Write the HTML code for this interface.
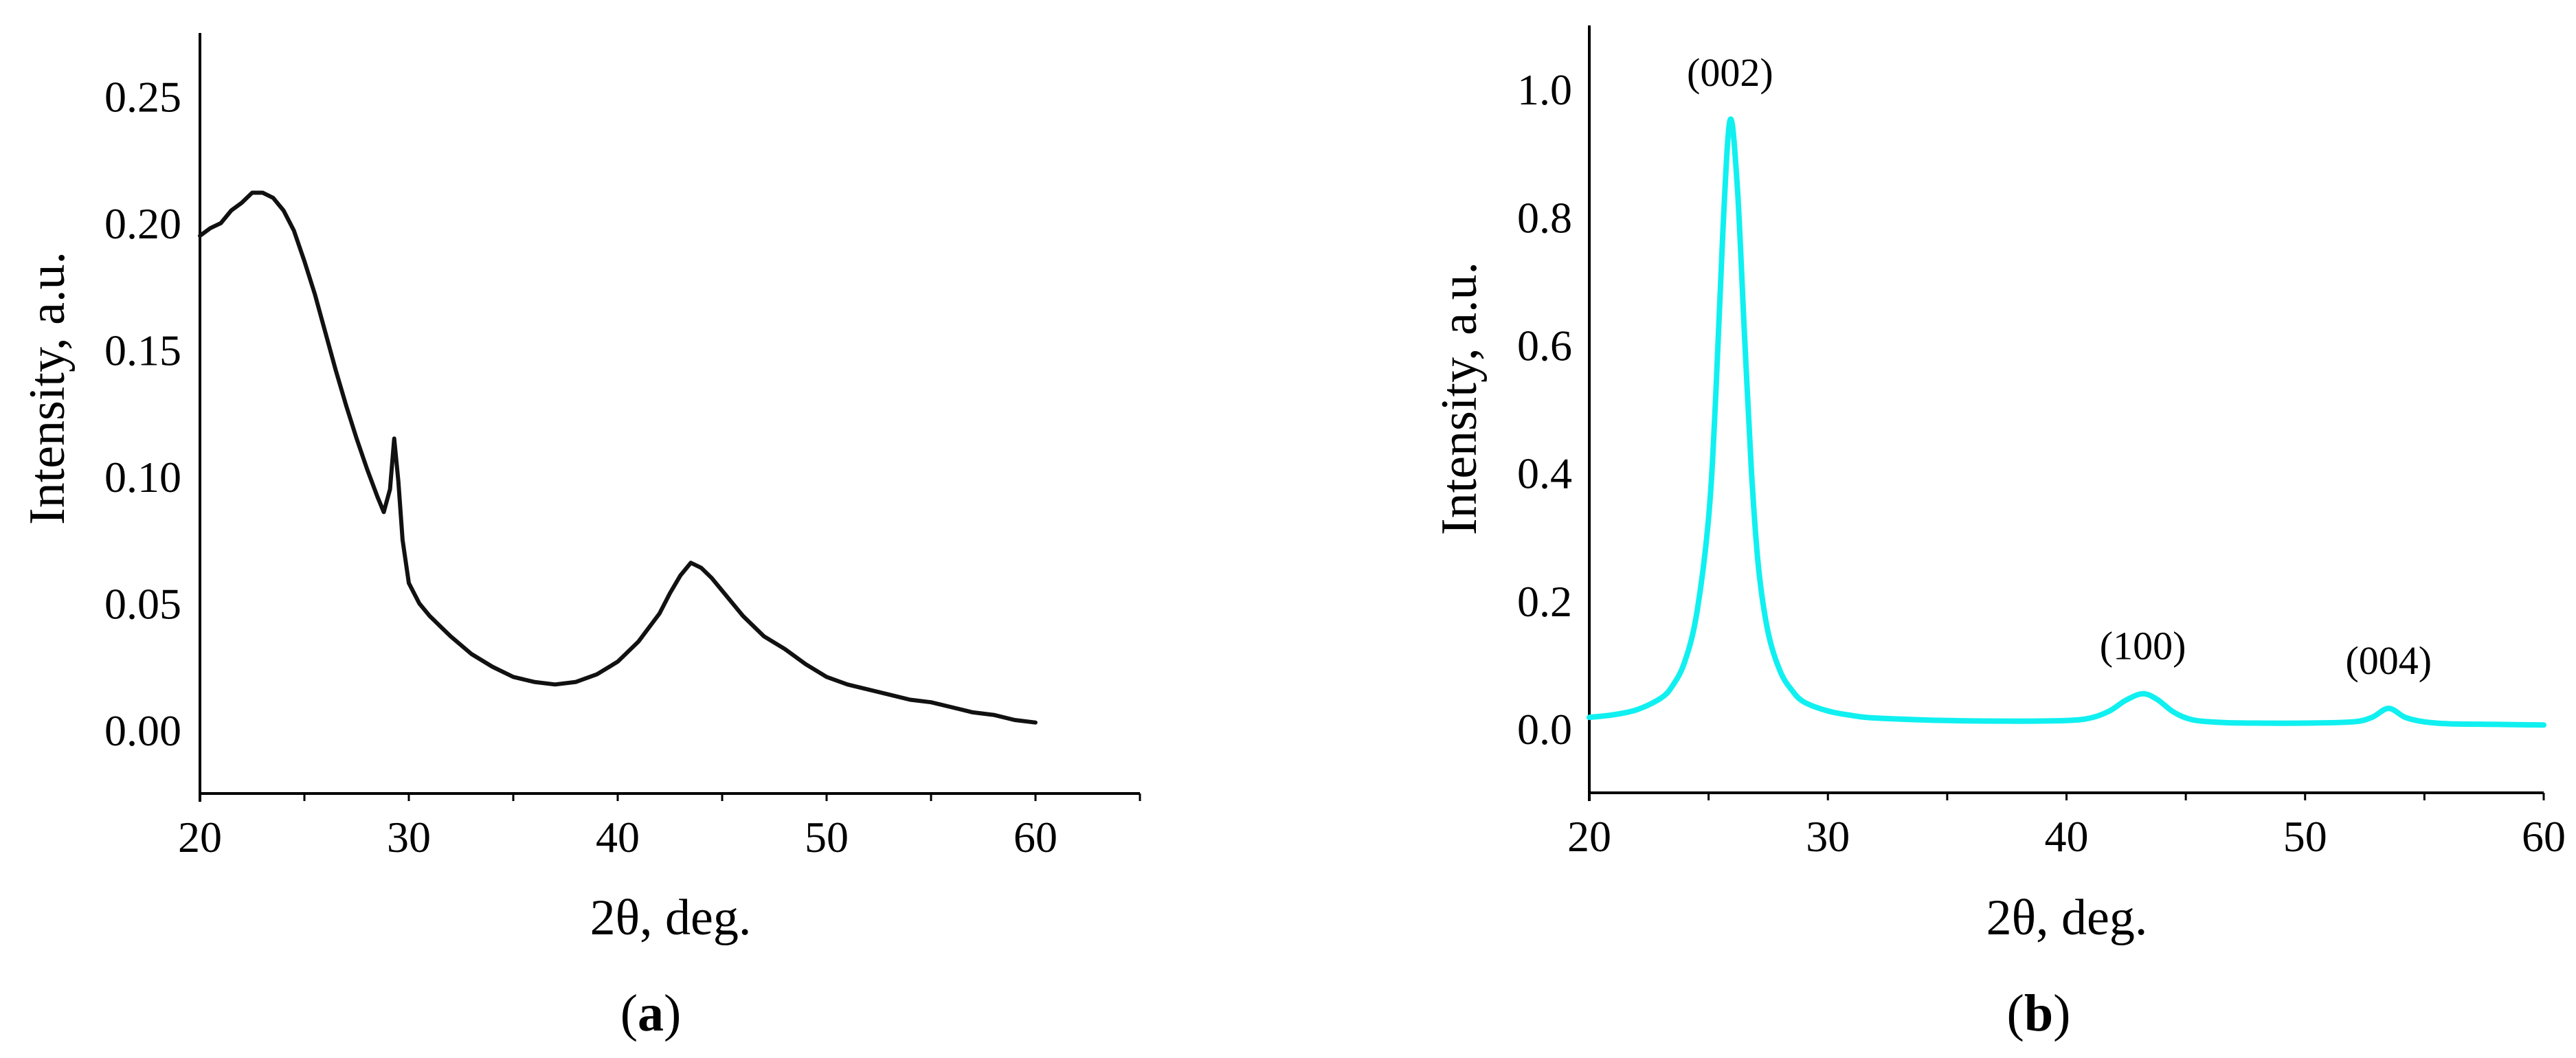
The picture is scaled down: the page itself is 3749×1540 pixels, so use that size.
<!DOCTYPE html>
<html><head><meta charset="utf-8"><style>
html,body{margin:0;padding:0;background:#fff;}
svg{display:block;}
text{font-family:"Liberation Serif","Times New Roman",serif;}
</style></head><body>
<svg id="fig" width="3749" height="1540" viewBox="0 0 3749 1540" xmlns="http://www.w3.org/2000/svg" font-family="Liberation Serif, serif">
<g id="chartA"></g>
<g id="chartB"></g>
</svg>
<script>
// Panel (a) data
const aX = [20,20.5,21,21.5,22,22.5,23,23.5,24,24.5,25,25.5,26,26.5,27,27.5,28,28.5,28.8,29.1,29.3,29.5,29.7,30,30.5,31,32,33,34,35,36,37,38,39,40,41,42,42.5,43,43.5,44,44.5,45,46,47,48,49,50,51,52,53,54,55,56,57,58,59,60];
const aY = [0.195,0.198,0.200,0.205,0.208,0.212,0.212,0.210,0.205,0.197,0.185,0.172,0.157,0.142,0.128,0.115,0.103,0.092,0.086,0.095,0.115,0.098,0.075,0.058,0.050,0.045,0.037,0.030,0.025,0.021,0.019,0.018,0.019,0.022,0.027,0.035,0.046,0.054,0.061,0.066,0.064,0.060,0.055,0.045,0.037,0.032,0.026,0.021,0.018,0.016,0.014,0.012,0.011,0.009,0.007,0.006,0.004,0.003];
const aXTicks = [20,30,40,50,60];
const aYTicks = [0.00,0.05,0.10,0.15,0.20,0.25];
const aYLabels = ["0.00","0.05","0.10","0.15","0.20","0.25"];
// Panel (b) data
const bX = [20,21,22,23,23.5,24,24.5,25,25.3,25.6,25.9,26.2,26.5,26.8,27.1,27.5,28,28.5,29,30,31,32,35,38,40,41,41.8,42.5,43.2,43.8,44.5,45.3,46.5,48,50,52,52.8,53.5,54.2,55,56,58,60];
const bY = [0.018,0.022,0.030,0.048,0.068,0.105,0.180,0.330,0.520,0.780,0.952,0.850,0.620,0.400,0.250,0.150,0.090,0.060,0.042,0.028,0.021,0.017,0.013,0.012,0.013,0.017,0.028,0.045,0.055,0.046,0.026,0.014,0.010,0.009,0.009,0.011,0.018,0.032,0.018,0.011,0.008,0.007,0.006];
const bXTicks = [20,30,40,50,60];
const bYTicks = [0.0,0.2,0.4,0.6,0.8,1.0];
const bYLabels = ["0.0","0.2","0.4","0.6","0.8","1.0"];
const bPeakLabels = ["(002)","(100)","(004)"];
const bPeakX = [25.9,43.2,53.5];
const bPeakY = [0.952,0.055,0.032];

const NS="http://www.w3.org/2000/svg";
const FF="Liberation Serif, Times New Roman, serif";
function mk(tag, parent, attrs){const e=document.createElementNS(NS,tag);for(const k in attrs)e.setAttribute(k,attrs[k]);if(tag==="text")e.setAttribute("font-family",FF);parent.appendChild(e);return e;}

function smoothPath(pts){
  let d="M"+pts[0][0].toFixed(1)+","+pts[0][1].toFixed(1);
  for(let i=0;i<pts.length-1;i++){
    const p0=pts[i-1]||pts[i],p1=pts[i],p2=pts[i+1],p3=pts[i+2]||p2;
    const c1x=p1[0]+(p2[0]-p0[0])/6,c1y=p1[1]+(p2[1]-p0[1])/6;
    const c2x=p2[0]-(p3[0]-p1[0])/6,c2y=p2[1]-(p3[1]-p1[1])/6;
    d+=" C"+c1x.toFixed(1)+","+c1y.toFixed(1)+" "+c2x.toFixed(1)+","+c2y.toFixed(1)+" "+p2[0].toFixed(1)+","+p2[1].toFixed(1);
  }
  return d;
}

function drawPanel(g, cfg){
  const sx=v=>cfg.x0+(v-cfg.xmin)/(cfg.xmax-cfg.xmin)*(cfg.x1-cfg.x0);
  const sy=v=>cfg.y1-(v-cfg.ymin)/(cfg.ymax-cfg.ymin)*(cfg.y1-cfg.y0);
  const ya=mk("line",g,{x1:cfg.x0,y1:cfg.y0,x2:cfg.x0,y2:cfg.y1+12,stroke:"#000","stroke-width":4});
  
  
  const xa=mk("line",g,{x1:cfg.x0,y1:cfg.y1,x2:cfg.x1,y2:cfg.y1,stroke:"#000","stroke-width":4});
  
  
  for(let v=cfg.xmin;v<=cfg.x1tickMax;v+=5){
    const t=mk("line",g,{x1:sx(v),y1:cfg.y1,x2:sx(v),y2:cfg.y1+11,stroke:"#000","stroke-width":3});
    
    
  }
  cfg.xTicks.forEach(v=>{
    const t=mk("text",g,{x:sx(v),y:cfg.y1+85,"font-size":64,"text-anchor":"middle",fill:"#000"});
    t.textContent=String(v);
    
    
  });
  cfg.yTicks.forEach((v,i)=>{
    const t=mk("text",g,{x:cfg.ylabRight,y:sy(v)+22,"font-size":64,"text-anchor":"end",fill:"#000"});
    t.textContent=cfg.yLabels[i];
    
    
  });
  const xt=mk("text",g,{x:cfg.xTitleX,y:1360,"font-size":74,"text-anchor":"middle",fill:"#000"});
  xt.textContent="2θ, deg.";
  
  
  const yt=mk("text",g,{x:0,y:0,"font-size":74,"text-anchor":"middle",fill:"#000",transform:"translate("+(cfg.yTitleX+24)+","+cfg.yTitleY+") rotate(-90)"});
  yt.textContent="Intensity, a.u.";
  
  
  const pl=mk("text",g,{x:cfg.panelX,y:1500,"font-size":76,"text-anchor":"middle",fill:"#000"});
  pl.innerHTML='(<tspan font-weight="bold">'+cfg.panel+'</tspan>)';
  
  
  const pts=cfg.xs.map((x,i)=>[sx(x),sy(cfg.ys[i])]);
  const p=mk("path",g,{d:cfg.smooth?smoothPath(pts):"M"+pts.map(q=>q[0].toFixed(1)+","+q[1].toFixed(1)).join(" L"),fill:"none",stroke:cfg.color,"stroke-width":cfg.sw,"stroke-linejoin":"round","stroke-linecap":"round"});
  
  
  return {sx,sy};
}

drawPanel(document.getElementById("chartA"),{x0:291,x1:1659,y0:48,y1:1155,xmin:20,xmax:65,ymin:-0.025,ymax:0.275,x1tickMax:65,
  xTicks:aXTicks,yTicks:aYTicks,yLabels:aYLabels,ylabRight:264,xTitleX:976,yTitleX:69,yTitleY:565,panelX:947,panel:"a",
  xs:aX,ys:aY,color:"#111",sw:6,smooth:false});
const sB=drawPanel(document.getElementById("chartB"),{x0:2313,x1:3702,y0:37,y1:1154,xmin:20,xmax:60,ymin:-0.1,ymax:1.1,x1tickMax:60,
  xTicks:bXTicks,yTicks:bYTicks,yLabels:bYLabels,ylabRight:2288,xTitleX:3008,yTitleX:2124,yTitleY:580,panelX:2967,panel:"b",
  xs:bX,ys:bY,color:"#10F0F0",sw:8,smooth:true});
const gB=document.getElementById("chartB");
bPeakLabels.forEach((lab,i)=>{
  const t=mk("text",gB,{x:sB.sx(bPeakX[i]),y:sB.sy(bPeakY[i])-50,"font-size":58,"text-anchor":"middle",fill:"#000"});
  t.textContent=lab;
  
  
});
</script>
</body></html>
